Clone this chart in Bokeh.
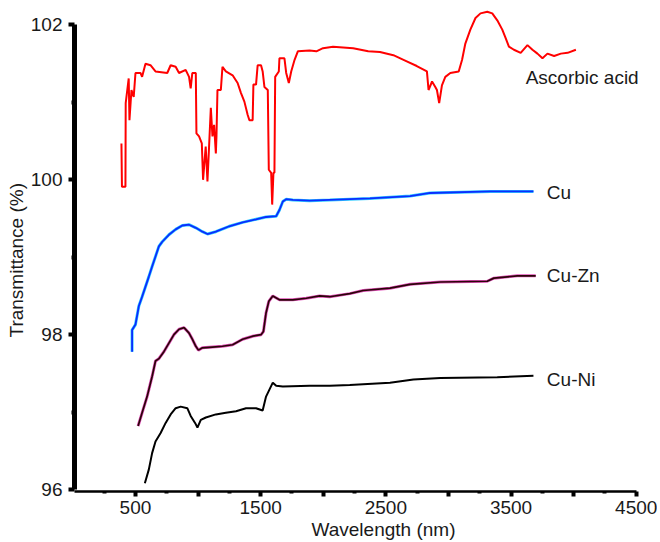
from bokeh.plotting import figure
from bokeh.models import FixedTicker, Range1d, Label, Title
from bokeh.embed import file_html
from bokeh.resources import INLINE

# ---------------- data ----------------
asc_x = [388, 392, 420, 422, 446, 452, 468, 486, 500, 540, 553, 580, 620, 660, 754, 781, 821, 848,
         901, 928, 941, 954, 982, 987, 1008, 1030, 1040, 1061, 1075, 1088, 1102, 1115, 1128, 1142,
         1147, 1155, 1182, 1195, 1222, 1276, 1316, 1343, 1370, 1396, 1410, 1436, 1442, 1463, 1476,
         1503, 1516, 1530, 1557, 1565, 1584, 1592, 1602, 1610, 1616, 1645, 1650, 1690, 1704, 1725,
         1744, 1771, 1797, 1891, 1945, 1998, 2078, 2239, 2359, 2453, 2560, 2667, 2747, 2828, 2841,
         2869, 2895, 2908, 2926, 2948, 2975, 3015, 3082, 3109, 3135, 3175, 3216, 3256, 3310, 3350,
         3390, 3430, 3457, 3483, 3523, 3577, 3631, 3671, 3711, 3751, 3791, 3844, 3898, 3952, 4018]
asc_y = [100.47, 99.91, 99.91, 100.99, 101.31, 100.77, 101.16, 101.07, 101.38, 101.38, 101.33,
         101.50, 101.48, 101.40, 101.38, 101.48, 101.46, 101.38, 101.42, 101.33, 101.18, 101.38,
         101.38, 100.60, 100.56, 100.47, 100.00, 100.43, 99.98, 100.43, 100.93, 100.56, 100.71,
         100.34, 100.56, 101.16, 101.16, 101.46, 101.40, 101.35, 101.25, 101.12, 101.01, 100.84,
         100.77, 100.77, 101.23, 101.23, 101.48, 101.48, 101.40, 101.20, 101.16, 100.13, 100.09,
         99.68, 100.09, 100.09, 101.33, 101.40, 101.57, 101.57, 101.38, 101.25, 101.40, 101.55,
         101.66, 101.67, 101.66, 101.70, 101.72, 101.70, 101.66, 101.65, 101.61, 101.53, 101.47,
         101.40, 101.16, 101.27, 101.20, 101.16, 100.99, 101.22, 101.33, 101.38, 101.40, 101.55,
         101.76, 101.94, 102.09, 102.15, 102.17, 102.15, 102.06, 101.94, 101.83, 101.72, 101.68,
         101.64, 101.74, 101.68, 101.63, 101.57, 101.63, 101.60, 101.63, 101.64, 101.68]

cu_x = [473, 473, 500, 527, 553, 580, 607, 633, 660, 687, 714, 767, 821, 874, 928, 982, 1035, 1075,
        1142, 1249, 1356, 1463, 1543, 1624, 1650, 1677, 1704, 1757, 1891, 2052, 2212, 2373, 2694,
        2854, 3336, 3679]
cu_y = [97.78, 98.06, 98.13, 98.37, 98.49, 98.62, 98.75, 98.88, 99.01, 99.14, 99.20, 99.29, 99.36,
        99.41, 99.42, 99.38, 99.33, 99.30, 99.33, 99.40, 99.45, 99.49, 99.52, 99.53, 99.61, 99.72,
        99.75, 99.74, 99.73, 99.74, 99.75, 99.76, 99.79, 99.83, 99.85, 99.85]

cuzn_x = [521, 553, 593, 633, 660, 687, 727, 767, 807, 848, 888, 928, 955, 982, 1003, 1035, 1115,
          1195, 1276, 1356, 1436, 1503, 1522, 1543, 1565, 1597, 1650, 1757, 1864, 1971, 2052, 2212,
          2319, 2533, 2694, 2935, 3310, 3363, 3550, 3697]
cuzn_y = [96.82, 96.99, 97.20, 97.46, 97.66, 97.69, 97.78, 97.89, 98.00, 98.07, 98.09, 98.02,
          97.94, 97.85, 97.80, 97.83, 97.84, 97.85, 97.87, 97.94, 97.98, 98.00, 98.04, 98.28,
          98.43, 98.50, 98.45, 98.45, 98.47, 98.50, 98.49, 98.53, 98.57, 98.60, 98.65, 98.68,
          98.69, 98.73, 98.76, 98.76]

cuni_x = [575, 607, 633, 660, 701, 741, 781, 821, 861, 914, 941, 976, 995, 1022, 1062, 1142, 1222,
          1303, 1383, 1463, 1516, 1543, 1570, 1597, 1624, 1677, 1891, 2052, 2212, 2533, 2720, 2935,
          3390, 3679]
cuni_y = [96.08, 96.26, 96.47, 96.62, 96.73, 96.86, 96.97, 97.05, 97.07, 97.05, 96.95, 96.86,
          96.80, 96.90, 96.93, 96.97, 96.99, 97.01, 97.05, 97.05, 97.02, 97.20, 97.29, 97.38,
          97.34, 97.33, 97.34, 97.34, 97.35, 97.38, 97.42, 97.44, 97.45, 97.47]

series_names = ["Ascorbic acid", "Cu", "Cu-Zn", "Cu-Ni"]
x_ticks = [500, 1000, 1500, 2000, 2500, 3000, 3500, 4000, 4500]
x_minor_ticks = [250, 750, 1250, 1750, 2250, 2750, 3250, 3750, 4250]
x_tick_labels = {1000: "", 2000: "", 3000: "", 4000: ""}
y_ticks = [96, 98, 100, 102]
y_minor_ticks = [97, 99, 101]

# ---------------- styling / layout ----------------
FONT = "Liberation Sans"
FS = "19px"
TXT = "#1a1a1a"

p = figure(width=657, height=541,
           min_border_left=74, min_border_right=10, min_border_top=9, min_border_bottom=50,
           x_range=Range1d(13, 4590), y_range=Range1d(95.974, 102.2),
           output_backend="svg", toolbar_location=None)
p.outline_line_color = None
p.xgrid.visible = False
p.ygrid.visible = False
p.background_fill_color = "white"
p.border_fill_color = "white"

# x axis
xa = p.xaxis[0]
xa.ticker = FixedTicker(ticks=x_ticks, minor_ticks=x_minor_ticks)
xa.bounds = (13, 4500)
xa.major_label_overrides = x_tick_labels
xa.axis_line_width = 2.5
xa.axis_line_color = "black"
xa.major_tick_line_width = 4
xa.major_tick_out = 5
xa.major_tick_in = 0
xa.minor_tick_line_width = 4
xa.minor_tick_out = 2
xa.minor_tick_in = 0
xa.major_label_text_font = FONT
xa.major_label_text_font_size = FS
xa.major_label_text_color = TXT
xa.major_label_standoff = 4

# y axis
ya = p.yaxis[0]
ya.ticker = FixedTicker(ticks=y_ticks, minor_ticks=y_minor_ticks)
ya.bounds = (96, 102)
ya.axis_line_width = 5
ya.axis_line_color = "black"
ya.major_tick_line_width = 4
ya.major_tick_out = 6
ya.major_tick_in = 0
ya.minor_tick_line_width = 4
ya.minor_tick_out = 3
ya.minor_tick_in = 0
ya.major_label_text_font = FONT
ya.major_label_text_font_size = FS
ya.major_label_text_color = TXT
ya.major_label_standoff = 6

# axis titles (placed off-centre as in the reference)
p.add_layout(Title(text="Transmittance (%)", align="left", offset=154, standoff=1,
                   text_font=FONT, text_font_size=FS, text_font_style="normal",
                   text_color=TXT), "left")
p.add_layout(Title(text="Wavelength (nm)", align="left", offset=237, standoff=0,
                   text_font=FONT, text_font_size=FS, text_font_style="normal",
                   text_color=TXT), "below")

# curves
p.line(asc_x, asc_y, line_color="#ff0000", line_width=2)
p.line(cu_x, cu_y, line_color="#33ccff", line_width=3)
p.line(cu_x, cu_y, line_color="#0a2cff", line_width=1.8)
p.line(cuzn_x, cuzn_y, line_color="#e050b8", line_width=3)
p.line(cuzn_x, cuzn_y, line_color="#2a0508", line_width=1.7)
p.line(cuni_x, cuni_y, line_color="#000000", line_width=2)

# series labels
label_x = [3617, 3786, 3786, 3786]
label_y = [101.32, 99.84, 98.76, 97.42]
for name, lx, ly in zip(series_names, label_x, label_y):
    p.add_layout(Label(x=lx, y=ly, text=name, text_font=FONT, text_font_size=FS,
                       text_color=TXT, text_align="left", text_baseline="middle"))

open("out.html", "w").write(file_html(p, INLINE))
